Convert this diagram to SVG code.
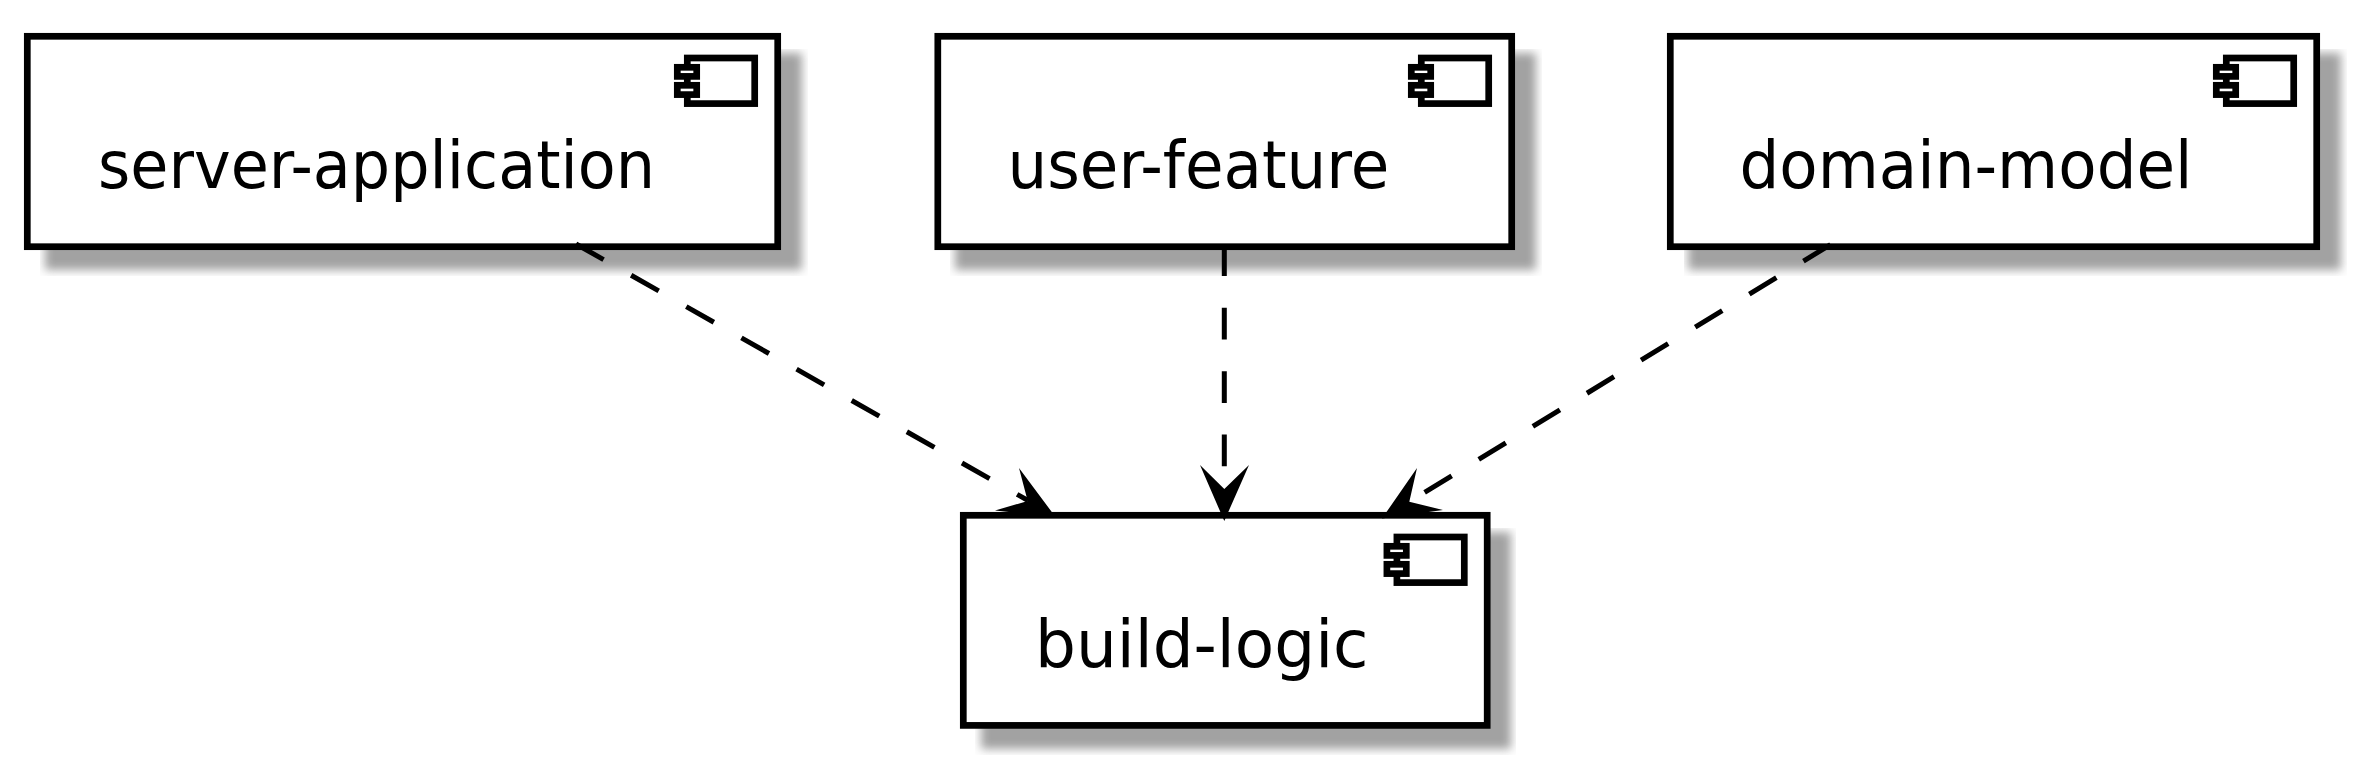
<svg xmlns="http://www.w3.org/2000/svg" width="2361" height="770" viewBox="0 0 2361 770">
<style>
.box{fill:#fff;stroke:#000;stroke-width:6.7}
.shadow{fill:#a2a2a2;filter:url(#blur)}
.label{font-family:"DejaVu Sans",sans-serif;font-size:66px;fill:#000}
.icon{fill:#fff;stroke:#000;stroke-width:6.7}
.link{fill:none;stroke:#000;stroke-width:5;stroke-dasharray:31.7 31.7}
.head{fill:#000;stroke:none}
</style>
<defs>
<filter id="blur" x="-10%" y="-20%" width="120%" height="140%"><feGaussianBlur stdDeviation="5"/></filter>
<clipPath id="c1"><rect x="40" y="49" width="768" height="227"/></clipPath>
<clipPath id="c2"><rect x="950" y="49" width="592" height="227"/></clipPath>
<clipPath id="c3"><rect x="1684" y="49" width="663" height="227"/></clipPath>
<clipPath id="c4"><rect x="975" y="528" width="541" height="227"/></clipPath>
<g id="comp">
<rect class="icon" x="-93.7" y="25" width="67.4" height="45.6"/>
<rect class="icon" x="-103.7" y="34.3" width="19.4" height="9.1"/>
<rect class="icon" x="-103.7" y="52.3" width="19.4" height="9.3"/>
</g>
</defs>
<g id="server-application">
<g clip-path="url(#c1)"><rect class="shadow" x="45" y="53" width="757" height="217"/></g>
<rect class="box" x="27.3" y="36.3" width="750.4" height="210.4"/>
<use href="#comp" x="781" y="33"/>
<text class="label" x="98" y="188" textLength="557" lengthAdjust="spacingAndGlyphs">server-application</text>
</g>
<g id="user-feature">
<g clip-path="url(#c2)"><rect class="shadow" x="955" y="53" width="581" height="217"/></g>
<rect class="box" x="937.8" y="36.3" width="573.9" height="210.4"/>
<use href="#comp" x="1515" y="33"/>
<text class="label" x="1007.4" y="188" textLength="382" lengthAdjust="spacingAndGlyphs">user-feature</text>
</g>
<g id="domain-model">
<g clip-path="url(#c3)"><rect class="shadow" x="1688" y="53" width="653" height="217"/></g>
<rect class="box" x="1670.3" y="36.3" width="646.4" height="210.4"/>
<use href="#comp" x="2320" y="33"/>
<text class="label" x="1739.5" y="188" textLength="453" lengthAdjust="spacingAndGlyphs">domain-model</text>
</g>
<g id="build-logic">
<g clip-path="url(#c4)"><rect class="shadow" x="981" y="532" width="530" height="217"/></g>
<rect class="box" x="963.3" y="515.3" width="523.9" height="210.1"/>
<use href="#comp" x="1490.6" y="512"/>
<text class="label" x="1035" y="667" textLength="333.5" lengthAdjust="spacingAndGlyphs">build-logic</text>
</g>
<g id="connectors">
<path class="link" d="M576 244L1028 500.5"/>
<polygon class="head" points="1055.5,517 1019,468 1027.7,501 995,510.5"/>
<path class="link" d="M1224.3 244.4V489"/>
<polygon class="head" points="1224.3,521 1200,465 1224.3,489 1249,465"/>
<path class="link" d="M1830.5 244.6L1409.3 501.7"/>
<polygon class="head" points="1382,518.5 1417,468 1409.3,501.7 1443,510"/>
</g>
</svg>
